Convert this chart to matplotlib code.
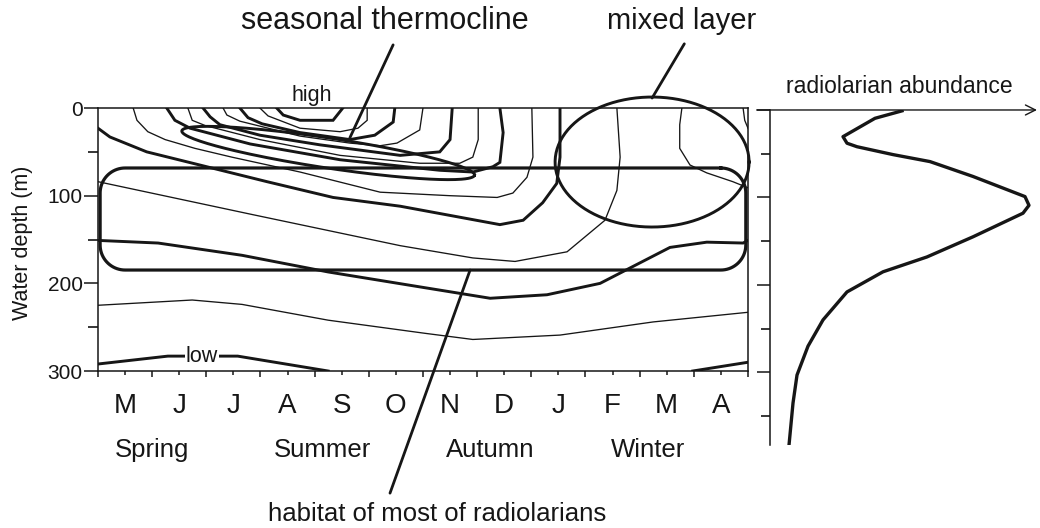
import numpy as np
import matplotlib.pyplot as plt

plt.rcParams['font.family'] = ['Liberation Sans', 'DejaVu Sans']
INK = '#161616'

months = ['M', 'J', 'J', 'A', 'S', 'O', 'N', 'D', 'J', 'F', 'M', 'A']
seasons = ['Spring', 'Summer', 'Autumn', 'Winter']
season_pos = [1.0, 4.15, 7.25, 10.15]

# isolines: x = months after 1 May, y = depth (m)
c1_m = [3.30, 3.42, 3.73, 4.34, 4.52]
c1_d = [0, 8, 14, 14, 0]
c2_m = [2.99, 3.14, 3.73, 4.47, 4.80, 4.97, 4.97]
c2_d = [0, 9, 23, 27, 23, 14, 0]
c3_m = [2.62, 2.77, 3.03, 3.73, 4.65, 5.11, 5.45, 5.48]
c3_d = [0, 11, 18, 28, 36, 31, 16, 0]
c4_m = [2.31, 2.38, 2.62, 3.73, 4.65, 5.21, 5.52, 5.94, 6.00]
c4_d = [0, 8, 15, 32, 40, 43, 40, 25, 0]
c5_m = [1.94, 2.07, 2.25, 2.99, 4.10, 5.58, 6.31, 6.50, 6.54]
c5_d = [0, 10, 19, 31, 42, 54, 50, 36, 0]
c6_m = [1.66, 1.74, 1.98, 2.99, 4.47, 5.94, 6.68, 6.92, 7.02, 7.02]
c6_d = [0, 14, 20, 36, 54, 63, 63, 56, 36, 0]
c7_m = [1.27, 1.42, 1.70, 2.81, 4.47, 6.31, 6.92, 7.29, 7.42, 7.48, 7.42]
c7_d = [0, 14, 23, 41, 59, 71, 73, 67, 62, 28, 0]
c8_m = [0.65, 0.72, 0.92, 1.24, 1.79, 2.47, 3.73, 5.21, 6.50, 7.37, 7.66, 7.92, 8.03, 8.01]
c8_d = [0, 14, 27, 36, 46, 56, 73, 96, 100, 102, 97, 79, 56, 0]
c9_m = [0, 0.22, 0.90, 1.88, 3.12, 4.34, 5.58, 7.42, 7.85, 8.21, 8.47, 8.53, 8.53]
c9_d = [23, 33, 50, 65, 84, 102, 112, 133, 128, 108, 86, 56, 0]
c10_m = [0, 2.81, 5.58, 6.92, 7.70, 8.66, 9.36, 9.58, 9.64, 9.58]
c10_d = [84, 121, 157, 171, 175, 164, 128, 94, 56, 0]
c11_m = [10.78, 10.74, 10.74, 10.93, 11.24, 11.72, 12.0]
c11_d = [0, 19, 46, 65, 74, 84, 91]
c12_m = [11.91, 11.94, 12.0]
c12_d = [0, 14, 23]
c13_m = [0, 1.11, 2.66, 4.25, 6.04, 7.24, 8.29, 9.27, 10.56, 11.24, 11.91, 12.0]
c13_d = [151, 154, 168, 187, 205, 217, 213, 200, 159, 153, 154, 151]
c14_m = [0, 1.74, 2.66, 4.25, 6.04, 6.92, 8.53, 10.25, 12.0]
c14_d = [225, 219, 224, 242, 257, 264, 259, 244, 233]
c15_m = [0, 1.29, 2.58, 4.25]
c15_d = [292, 283, 283, 300]
c16_m = [10.98, 12.0]
c16_d = [300, 290]

thick = [(c1_m, c1_d), (c3_m, c3_d), (c5_m, c5_d), (c7_m, c7_d), (c9_m, c9_d),
         (c13_m, c13_d), (c15_m, c15_d), (c16_m, c16_d)]
thin = [(c2_m, c2_d), (c4_m, c4_d), (c6_m, c6_d), (c8_m, c8_d), (c10_m, c10_d),
        (c11_m, c11_d), (c12_m, c12_d), (c14_m, c14_d)]

# radiolarian abundance profile (arbitrary units)
abund_depth = [1, 9.5, 30.5, 38, 42, 51, 59, 76, 99, 109, 118, 145, 168, 185, 208, 240, 270, 303, 335, 383]
abund_val = [132, 105, 73, 77, 87, 123, 160, 203, 255, 259, 253, 203, 157, 113, 77, 53, 38, 27, 23, 19]

fig = plt.figure(figsize=(10.4, 5.28), dpi=100)
ax = fig.add_axes([0.0942, 0.2973, 0.625, 0.4981])
ax.set_xlim(0, 12)
ax.set_ylim(300, 0)

for mm, dd in thin:
    ax.plot(mm, dd, color=INK, lw=0.95, solid_joinstyle='miter')
for mm, dd in thick:
    ax.plot(mm, dd, color=INK, lw=2.1, solid_joinstyle='miter')

# shapes: sizes given in pixels, converted to month / metre units
PXM = 650 / 12
PXD = 263 / 300


def ellipse(cm, cd, a, b, ang):
    t = np.linspace(0, 2 * np.pi, 200)
    p = np.radians(ang)
    x = a * np.cos(t) * np.cos(p) - b * np.sin(t) * np.sin(p)
    y = a * np.cos(t) * np.sin(p) + b * np.sin(t) * np.cos(p)
    return cm + x / PXM, cd + y / PXD


def rounded_rect(m0, m1, d0, d1, r):
    rm, rd = r / PXM, r / PXD
    xs, ys = [], []
    corners = [(m1 - rm, d0 + rd, -90, 0), (m1 - rm, d1 - rd, 0, 90),
               (m0 + rm, d1 - rd, 90, 180), (m0 + rm, d0 + rd, 180, 270)]
    for cx, cy, a0, a1 in corners:
        t = np.radians(np.linspace(a0, a1, 20))
        xs += list(cx + rm * np.cos(t))
        ys += list(cy + rd * np.sin(t))
    xs.append(xs[0])
    ys.append(ys[0])
    return xs, ys


ex, ey = ellipse(4.25, 51.3, 148, 15, 8.6)
ax.plot(ex, ey, color=INK, lw=2.1, clip_on=False)
ex, ey = ellipse(10.23, 61.6, 97, 65, 0)
ax.plot(ex, ey, color=INK, lw=2.1, clip_on=False)
rx, ry = rounded_rect(0.04, 11.96, 68.4, 184.8, 25)
ax.plot(rx, ry, color=INK, lw=2.3, clip_on=False)

ax.text(1.92, 283, 'low', fontsize=15.5, ha='center', va='center', color=INK,
        bbox=dict(facecolor='white', edgecolor='none', pad=1))

# axes styling
for s in ax.spines.values():
    s.set_linewidth(1.1)
    s.set_color(INK)
ax.set_yticks([0, 100, 200, 300])
ax.set_yticks([50, 150, 250], minor=True)
ax.set_xticks(np.arange(13))
ax.set_xticklabels([])
ax.set_xticks(np.arange(12) + 0.5, months, minor=True)
ax.tick_params(axis='y', which='major', length=10, width=1.1, labelsize=15, pad=1, colors=INK)
ax.tick_params(axis='y', which='minor', length=7, width=1.1)
ax.tick_params(axis='x', which='major', length=4.5, width=1.1, colors=INK)
ax.tick_params(axis='x', which='minor', length=3, width=1.1, labelsize=20, pad=13, colors=INK)

for name, pos in zip(seasons, season_pos):
    ax.text(pos, -0.30, name, transform=ax.get_xaxis_transform(), fontsize=18.5,
            ha='center', va='center', color=INK)

fig.text(0.022, 0.54, 'Water depth (m)', rotation=90, fontsize=15.5, ha='center', va='center', color=INK)
fig.text(0.370, 0.960, 'seasonal thermocline', fontsize=22, ha='center', va='center', color=INK)
fig.text(0.655, 0.960, 'mixed layer', fontsize=21, ha='center', va='center', color=INK)
fig.text(0.300, 0.820, 'high', fontsize=15.5, ha='center', va='center', color=INK)
fig.text(0.420, 0.027, 'habitat of most of radiolarians', fontsize=18.5, ha='center', va='center', color=INK)

lead = dict(arrowstyle='-', lw=2.0, color=INK, shrinkA=0, shrinkB=0)
ax.annotate('', xy=(4.65, 34), xytext=(0.378, 0.915), textcoords='figure fraction',
            arrowprops=lead, annotation_clip=False)
ax.annotate('', xy=(10.23, -11.4), xytext=(0.658, 0.917), textcoords='figure fraction',
            arrowprops=lead, annotation_clip=False)
ax.annotate('', xy=(6.87, 184.8), xytext=(0.375, 0.066), textcoords='figure fraction',
            arrowprops=lead, annotation_clip=False)

# abundance panel
ax2 = fig.add_axes([0.7404, 0.1572, 0.2567, 0.6345])
ax2.set_xlim(0, 267)
ax2.set_ylim(383, 0)
ax2.plot(abund_val, abund_depth, color=INK, lw=2.4, solid_joinstyle='round')
for k in ['top', 'right', 'bottom']:
    ax2.spines[k].set_visible(False)
ax2.spines['left'].set_linewidth(1.1)
ax2.spines['left'].set_color(INK)
ax2.set_xticks([])
ax2.set_yticks([0, 100, 200, 300])
ax2.set_yticks([50, 150, 250, 350], minor=True)
ax2.tick_params(axis='y', which='major', length=9.5, width=1.1, labelleft=False, colors=INK)
ax2.tick_params(axis='y', which='minor', length=6.5, width=1.1, labelleft=False)
ax2.annotate('', xy=(1.0, 1.0), xytext=(-0.05, 1.0), xycoords='axes fraction',
             arrowprops=dict(arrowstyle='->', lw=1.0, color=INK, mutation_scale=18,
                             shrinkA=0, shrinkB=0), annotation_clip=False)
fig.text(0.865, 0.837, 'radiolarian abundance', fontsize=16.5, ha='center', va='center', color=INK)

fig.savefig('out.png', dpi=100)
